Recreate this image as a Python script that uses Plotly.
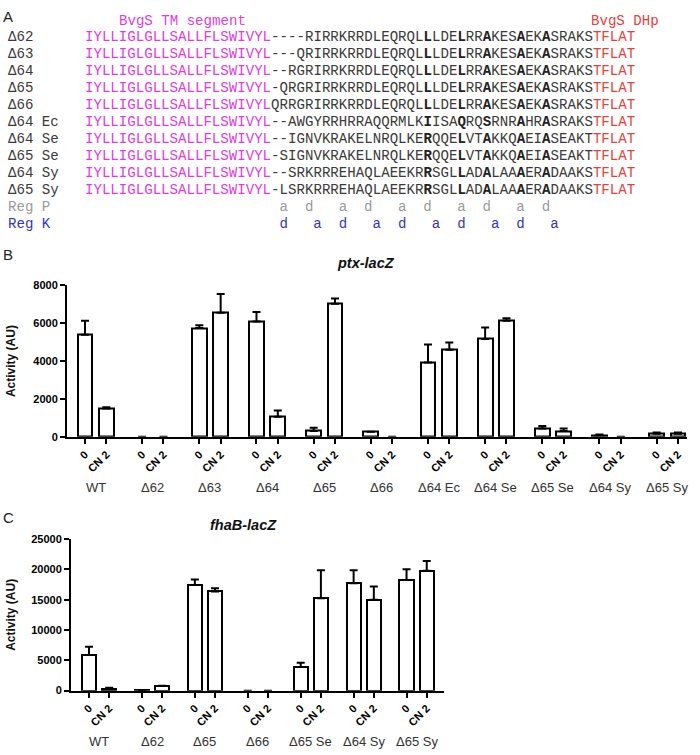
import plotly.graph_objects as go

W, H = 700, 755

# ---------------- Panel A data ----------------
row_labels = ["Δ62", "Δ63", "Δ64", "Δ65", "Δ66", "Δ64 Ec", "Δ64 Se", "Δ65 Se", "Δ64 Sy", "Δ65 Sy"]
tm_segment = "IYLLIGLGLLSALLFLSWIVYL"
linkers = [
    "----RIRRKRRDLEQRQLLLDELRRAKESAEKASRAKS",
    "---QRIRRKRRDLEQRQLLLDELRRAKESAEKASRAKS",
    "--RGRIRRKRRDLEQRQLLLDELRRAKESAEKASRAKS",
    "-QRGRIRRKRRDLEQRQLLLDELRRAKESAEKASRAKS",
    "QRRGRIRRKRRDLEQRQLLLDELRRAKESAEKASRAKS",
    "--AWGYRRHRRAQQRMLKIISAQRQSRNRAHRASRAKS",
    "--IGNVKRAKELNRQLKERQQELVTAKKQAEIASEAKT",
    "-SIGNVKRAKELNRQLKERQQELVTAKKQAEIASEAKT",
    "--SRKRRREHAQLAEEKRRSGLLADALAAAERADAAKS",
    "-LSRKRRREHAQLAEEKRRSGLLADALAAAERADAAKS",
]
dhp_segment = "TFLAT"
bold_positions = [40, 44, 47, 51, 54]
reg_p_letters = ["a", "d", "a", "d", "a", "d", "a", "d", "a", "d"]
reg_p_positions = [23, 26, 30, 33, 37, 40, 44, 47, 51, 54]
reg_k_letters = ["d", "a", "d", "a", "d", "a", "d", "a", "d", "a"]
reg_k_positions = [23, 27, 30, 34, 37, 41, 44, 48, 51, 55]

# ---------------- Panel B data (ptx-lacZ) ----------------
conditions = ["0", "CN 2"]
b_groups = ["WT", "Δ62", "Δ63", "Δ64", "Δ65", "Δ66", "Δ64 Ec", "Δ64 Se", "Δ65 Se", "Δ64 Sy", "Δ65 Sy"]
b_zero = [5400, 0, 5750, 6090, 310, 270, 3925, 5175, 440, 90, 160]
b_zero_err = [730, 0, 150, 510, 170, 0, 955, 605, 130, 30, 70]
b_cn2 = [1500, 0, 6560, 1060, 7030, 0, 4600, 6130, 300, 0, 160]
b_cn2_err = [60, 0, 990, 330, 280, 0, 380, 140, 140, 0, 60]

# ---------------- Panel C data (fhaB-lacZ) ----------------
c_groups = ["WT", "Δ62", "Δ65", "Δ66", "Δ65 Se", "Δ64 Sy", "Δ65 Sy"]
c_zero = [5900, 100, 17430, 0, 3900, 17700, 18250]
c_zero_err = [1360, 0, 920, 0, 700, 2170, 1780]
c_cn2 = [325, 760, 16350, 0, 15260, 15000, 19760]
c_cn2_err = [165, 40, 530, 0, 4610, 2160, 1620]


def px(x):
    return x / W


def py(y):
    return 1 - y / H


MONO = "Liberation Mono"
SANS = "Liberation Sans, Arial"
MAGENTA = "#e03ce0"
RED = "#e8413c"
DARK = "#3a3a3a"
GRAY = "#9a9a9a"
BLUE = "#3434c8"

fig = go.Figure()
annotations = []

# ---------- Panel A ----------
seq_x = 84
label_x = 7
row_y0 = 32
row_dy = 17.2
mono_size = 14.1


def seq_html(linker):
    parts = [f'<span style="color:{MAGENTA}">{tm_segment}</span>']
    off = len(tm_segment)
    for i, ch in enumerate(linker):
        pos = off + i
        if pos in bold_positions:
            parts.append(f'<b><span style="color:#222">{ch}</span></b>')
        else:
            parts.append(f'<span style="color:{DARK}">{ch}</span>')
    parts.append(f'<span style="color:{RED}">{dhp_segment}</span>')
    return "".join(parts)


def reg_string(letters, positions):
    n = max(positions) + 1
    chars = ["\u00a0"] * n
    for l, p in zip(letters, positions):
        chars[p] = l
    return "".join(chars)


annotations.append(dict(text="A", x=px(2), y=py(11), xref="paper", yref="paper",
                        xanchor="left", yanchor="middle", showarrow=False,
                        font=dict(family=SANS, size=15, color="#222"), borderpad=0))
annotations.append(dict(text="BvgS TM segment", x=px(seq_x + 4 * mono_size * 0.6), y=py(15),
                        xref="paper", yref="paper", xanchor="left", yanchor="middle",
                        showarrow=False, font=dict(family=MONO, size=mono_size, color=MAGENTA),
                        borderpad=0))
annotations.append(dict(text="BvgS DHp", x=px(seq_x + 59.8 * mono_size * 0.6), y=py(15),
                        xref="paper", yref="paper", xanchor="left", yanchor="middle",
                        showarrow=False, font=dict(family=MONO, size=mono_size, color=RED),
                        borderpad=0))

for i, (lab, lk) in enumerate(zip(row_labels, linkers)):
    y = row_y0 + i * row_dy
    annotations.append(dict(text=lab, x=px(label_x), y=py(y), xref="paper", yref="paper",
                            xanchor="left", yanchor="middle", showarrow=False,
                            font=dict(family=MONO, size=mono_size, color=DARK), borderpad=0))
    annotations.append(dict(text=seq_html(lk), x=px(seq_x), y=py(y), xref="paper", yref="paper",
                            xanchor="left", yanchor="middle", showarrow=False,
                            font=dict(family=MONO, size=mono_size, color=DARK), borderpad=0))

for k, (lab, letters, positions, col) in enumerate([
        ("Reg P", reg_p_letters, reg_p_positions, GRAY),
        ("Reg K", reg_k_letters, reg_k_positions, BLUE)]):
    y = row_y0 + (len(row_labels) + k) * row_dy
    annotations.append(dict(text=lab, x=px(label_x), y=py(y), xref="paper", yref="paper",
                            xanchor="left", yanchor="middle", showarrow=False,
                            font=dict(family=MONO, size=mono_size, color=col), borderpad=0))
    annotations.append(dict(text=reg_string(letters, positions), x=px(seq_x), y=py(y),
                            xref="paper", yref="paper", xanchor="left", yanchor="middle",
                            showarrow=False, font=dict(family=MONO, size=mono_size, color=col),
                            borderpad=0))


# ---------- Bar panels ----------
def add_panel(groups, zero, zero_err, cn2, cn2_err, G, xa, ya):
    xs, ys, es, tt = [], [], [], []
    for g in range(len(groups)):
        for j, (vals, errs) in enumerate([(zero, zero_err), (cn2, cn2_err)]):
            xs.append(g * G + j)
            ys.append(vals[g])
            es.append(errs[g])
            tt.append(conditions[j])
    line_widths = [2 if v > 0 else 0 for v in ys]
    fig.add_trace(go.Bar(
        x=xs, y=ys, width=0.7, xaxis=xa, yaxis=ya,
        marker=dict(color="white", line=dict(color="black", width=line_widths)),
        error_y=dict(type="data", array=es, arrayminus=[0] * len(es), symmetric=False,
                     color="black", thickness=2, width=4),
        hoverinfo="x+y", showlegend=False))
    return xs, tt


b_G = 2.68
c_G = 2.62
bx, btt = add_panel(b_groups, b_zero, b_zero_err, b_cn2, b_cn2_err, b_G, "x", "y")
cx, ctt = add_panel(c_groups, c_zero, c_zero_err, c_cn2, c_cn2_err, c_G, "x2", "y2")

axis_common = dict(showline=True, linewidth=2, linecolor="black", ticks="outside",
                   ticklen=5, tickwidth=2, tickcolor="black", showgrid=False,
                   zeroline=False, mirror=False,
                   tickfont=dict(family=SANS, size=11, color="black", weight="bold"))

b_unit = 21.33
c_unit = 20.2
fig.update_layout(
    width=W, height=H, margin=dict(l=0, r=0, t=0, b=0),
    paper_bgcolor="white", plot_bgcolor="white", showlegend=False,
    bargap=0,
    xaxis=dict(domain=[px(67), px(687)], range=[(67 - 85) / b_unit, (687 - 85) / b_unit],
               tickvals=bx, ticktext=btt, tickangle=-45, anchor="y", **axis_common),
    yaxis=dict(domain=[py(437.7), py(284)], range=[0, 8000], tickvals=[0, 2000, 4000, 6000, 8000],
               tickformat="d", anchor="x", **axis_common),
    xaxis2=dict(domain=[px(71), px(444)], range=[(71 - 89) / c_unit, (444 - 89) / c_unit],
                tickvals=cx, ticktext=ctt, tickangle=-45, anchor="y2", **axis_common),
    yaxis2=dict(domain=[py(695.7), py(541.7)], range=[0, 25000],
                tickvals=[0, 5000, 10000, 15000, 20000, 25000], tickformat="d",
                anchor="x2", **axis_common),
)

# Panel letters, titles, axis titles, group labels
for letter, yy in [("B", 253), ("C", 520)]:
    annotations.append(dict(text=letter, x=px(2), y=py(yy), xref="paper", yref="paper",
                            xanchor="left", yanchor="middle", showarrow=False,
                            font=dict(family=SANS, size=15, color="#222"), borderpad=0))

annotations.append(dict(text="<b><i>ptx-lacZ</i></b>", x=px(366), y=py(261), xref="paper",
                        yref="paper", xanchor="center", yanchor="middle", showarrow=False,
                        font=dict(family=SANS, size=14.5, color="#111"), borderpad=0))
annotations.append(dict(text="<b><i>fhaB-lacZ</i></b>", x=px(243), y=py(527), xref="paper",
                        yref="paper", xanchor="center", yanchor="middle", showarrow=False,
                        font=dict(family=SANS, size=14.5, color="#111"), borderpad=0))

for yc in [(284 + 437.7) / 2, (541.7 + 695.7) / 2]:
    annotations.append(dict(text="<b>Activity (AU)</b>", x=px(11), y=py(yc), xref="paper",
                            yref="paper", xanchor="center", yanchor="middle", showarrow=False,
                            textangle=-90, font=dict(family=SANS, size=12, color="#111"),
                            borderpad=0))

for g, name in enumerate(b_groups):
    annotations.append(dict(text=name, x=g * b_G + 0.5, y=py(489), xref="x", yref="paper",
                            xanchor="center", yanchor="middle", showarrow=False,
                            font=dict(family=SANS, size=13, color="#333"), borderpad=0))
for g, name in enumerate(c_groups):
    annotations.append(dict(text=name, x=g * c_G + 0.5, y=py(747), xref="x2", yref="paper",
                            xanchor="center", yanchor="middle", showarrow=False,
                            font=dict(family=SANS, size=13, color="#333"), borderpad=0))

fig.update_layout(annotations=annotations)
fig.write_html(
    "out.html",
    config={"displayModeBar": False},
    post_script="document.body.style.margin='0';document.body.style.padding='0';"
                "document.body.style.overflow='hidden';",
)
